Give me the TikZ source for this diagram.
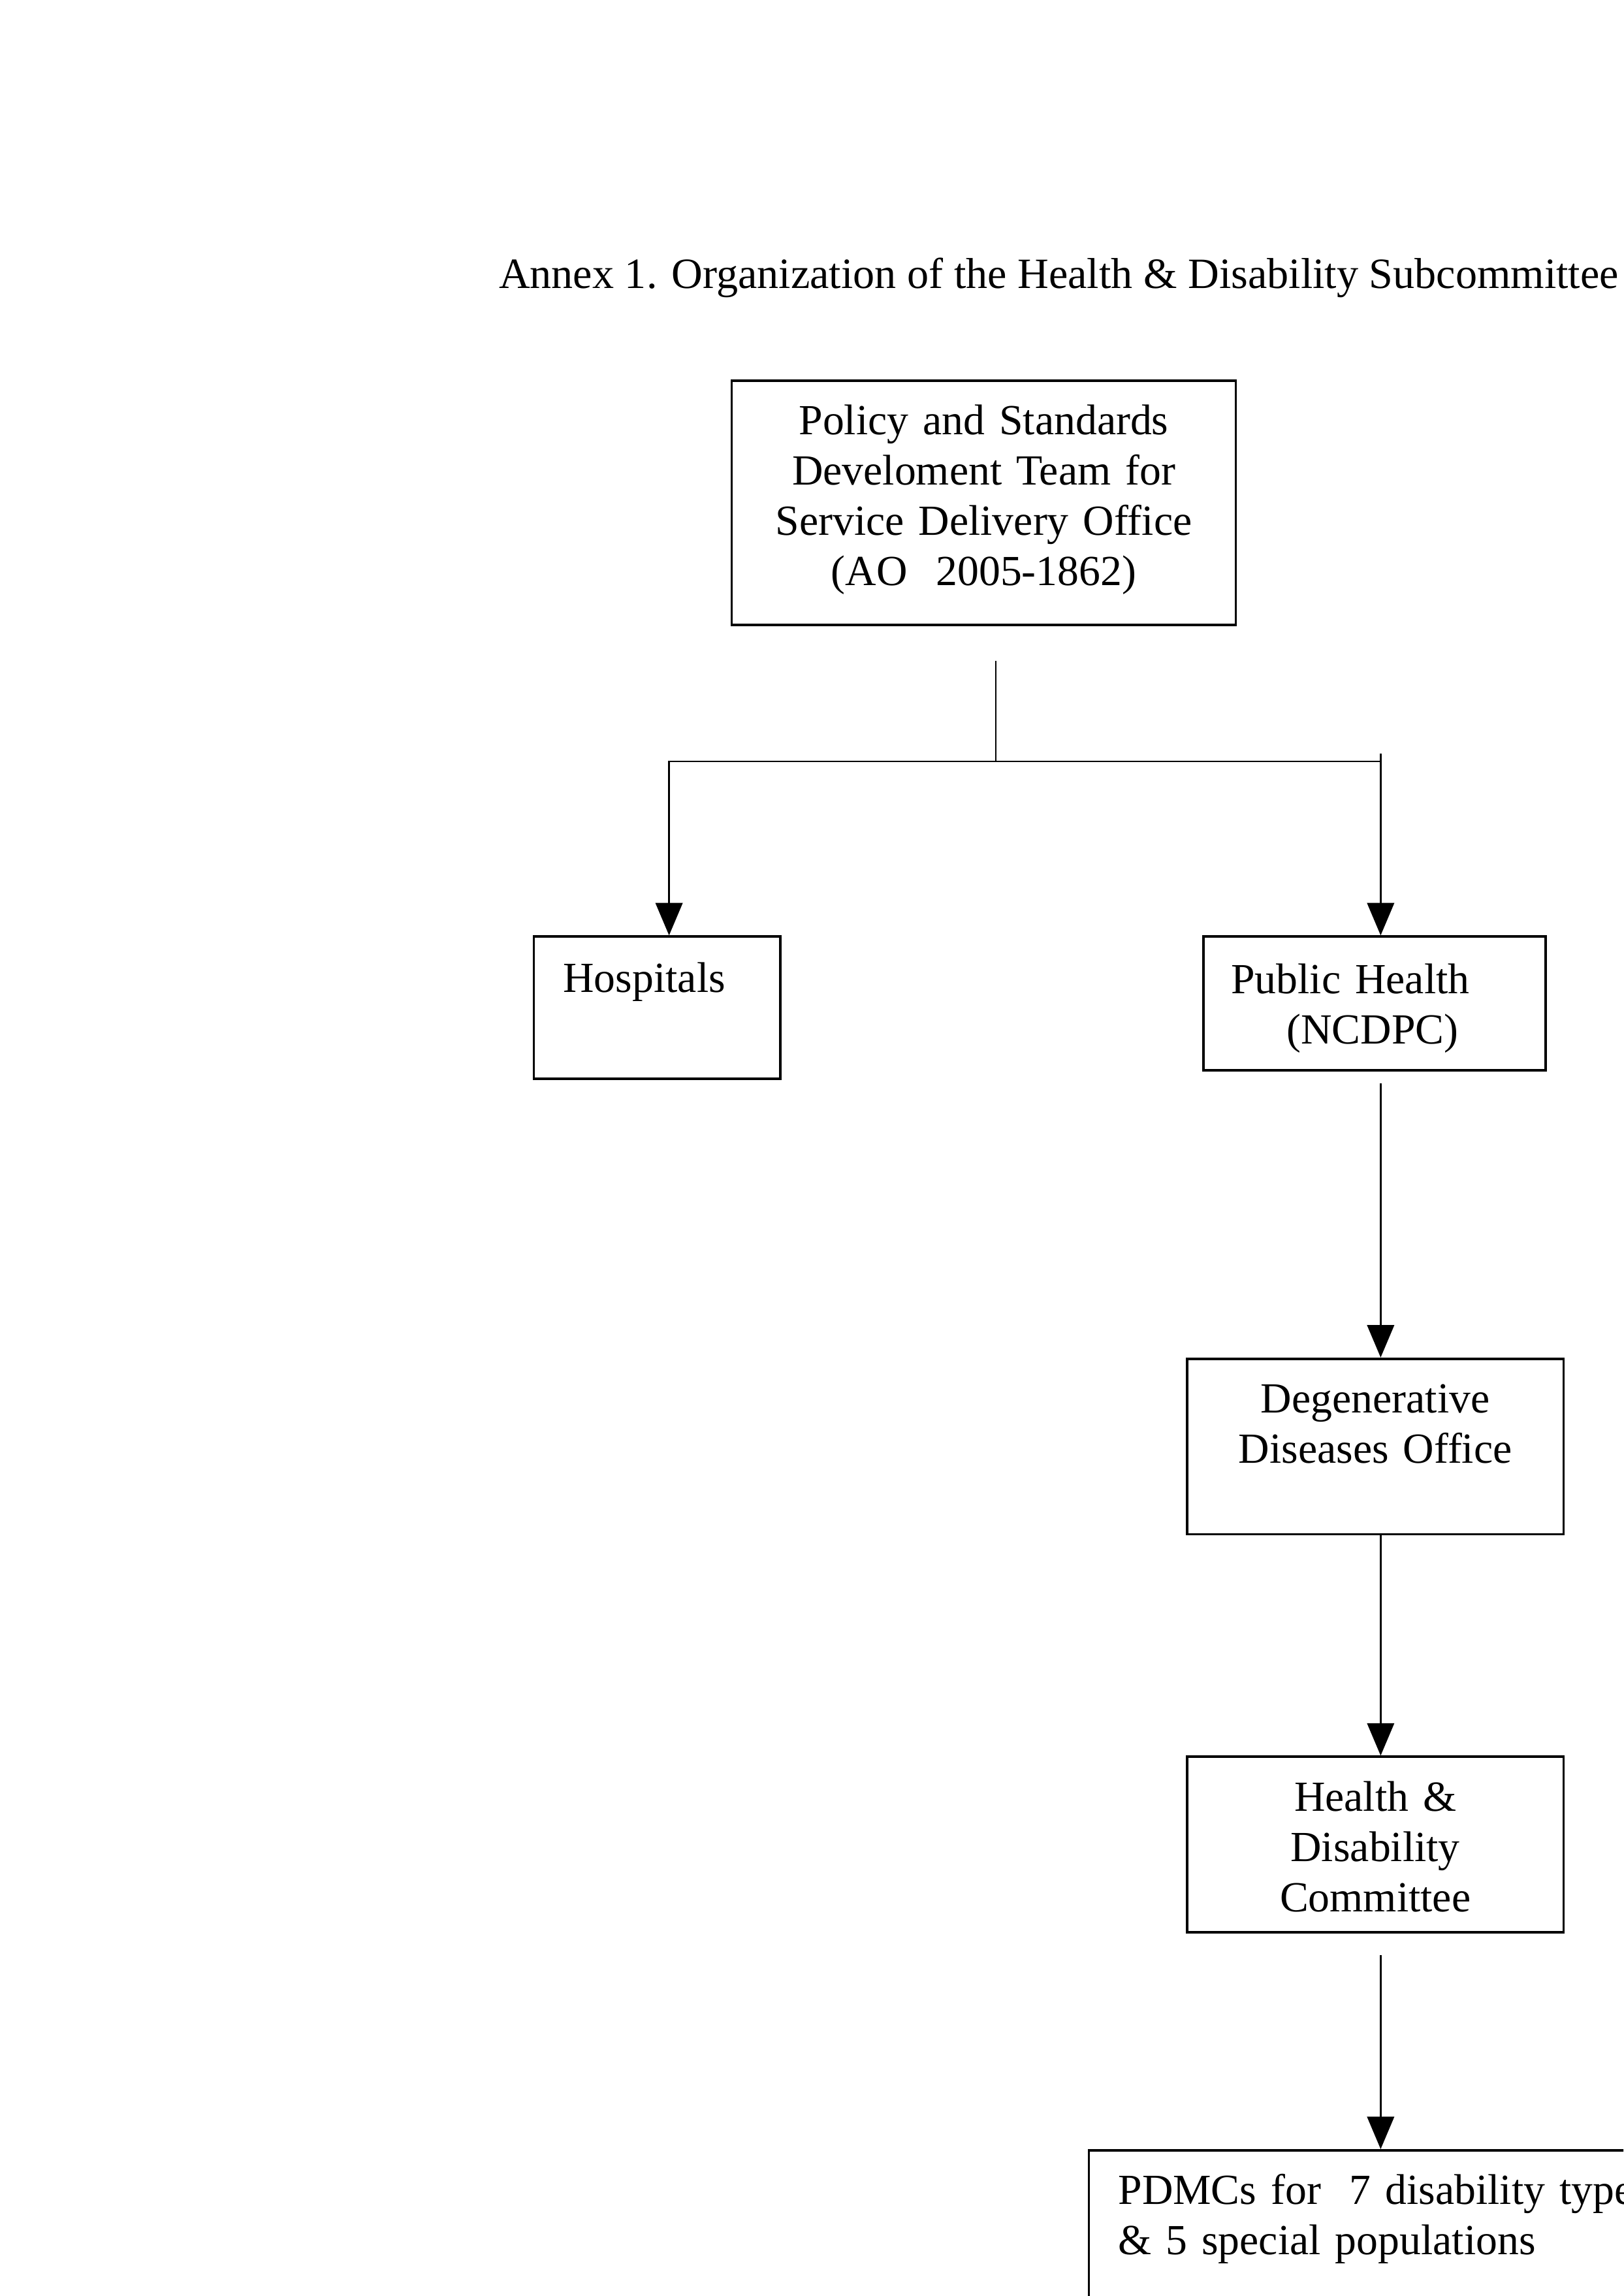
\documentclass[tikz,border=0pt]{standalone}
\usepackage{fontspec}
\setmainfont{Liberation Serif}
\usetikzlibrary{arrows.meta}

\begin{document}
\begin{tikzpicture}[x=1cm, y=1cm,
  orgbox/.style={draw, line width=0.9pt, anchor=north west, inner ysep=0pt,
    font=\fontsize{15.8}{18.5}\selectfont},
  link/.style={line width=0.6pt},
  arrow/.style={link, -{Triangle[length=4.2mm, width=3.5mm]}}]
\clip (0,0) rectangle (21,29.7);
\node[font=\fontsize{15.9}{18.5}\selectfont, anchor=base west] (title)
  at (6.33,25.97) {Annex 1. Organization of the Health \& Disability Subcommittee};
\node[orgbox, inner xsep=0pt, text width=6.52cm, align=center, text height=0.70cm, text depth=2.46cm]
  (policy) at (9.45,24.79) {Policy and Standards\\Develoment Team for\\Service Delivery Office\\(AO~ 2005-1862)};
\node[orgbox, inner xsep=0.38cm, text width=2.43cm, align=left, text height=0.72cm, text depth=1.12cm]
  (hosp) at (6.89,17.60) {Hospitals};
\node[orgbox, inner xsep=0.36cm, text width=3.71cm, align=left, text height=0.74cm, text depth=0.99cm]
  (ph) at (15.55,17.60) {Public Health\\\hspace*{0.72cm}(NCDPC)};
\node[orgbox, inner xsep=0pt, text width=4.87cm, align=center, text height=0.70cm, text depth=1.57cm]
  (deg) at (15.34,12.14) {Degenerative\\Diseases Office};
\node[orgbox, inner xsep=0pt, text width=4.87cm, align=center, text height=0.70cm, text depth=1.57cm]
  (hd) at (15.34,6.99) {Health \&\\Disability\\Committee};
\node[orgbox, inner xsep=0.38cm, text width=8cm, align=left, text height=0.70cm, text depth=2.5cm]
  (pdmc) at (14.07,1.90) {PDMCs for~ 7 disability types\\\& 5 special populations};
% branching lines
\coordinate (split) at (12.88,19.85);
\coordinate (lbranch) at (8.655,19.85);
\coordinate (spine) at (17.86,19.95);
\draw[link, shorten <=4.5mm] (policy.south -| split) -- (split);
\draw[arrow] (split) -| (lbranch |- hosp.north);
\draw[link] (split) -- (split -| spine);
\draw[arrow] (spine) -- (ph.north -| spine);
\draw[arrow, shorten <=1.5mm] (ph.south -| spine) -- (deg.north -| spine);
\draw[arrow] (deg.south -| spine) -- (hd.north -| spine);
\draw[arrow, shorten <=2.8mm] (hd.south -| spine) -- (pdmc.north -| spine);
\end{tikzpicture}
\end{document}
